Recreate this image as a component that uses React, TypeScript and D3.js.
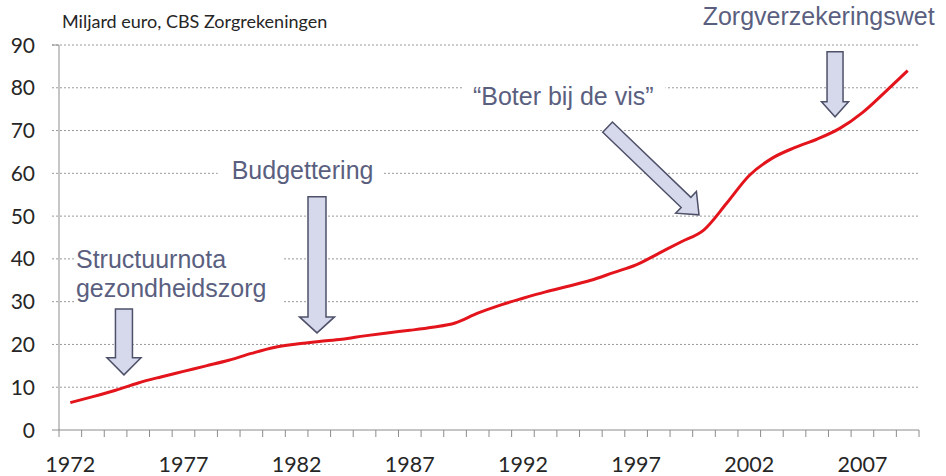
import React, { useEffect, useRef } from 'react';
import * as d3 from 'd3';

// Zorguitgaven, miljard euro (CBS Zorgrekeningen)
const years = d3.range(1972, 2010);
const spending = [
  6.4, 7.8, 9.3, 11.0, 12.4, 13.7, 15.0, 16.3, 17.9, 19.3,
  20.1, 20.7, 21.2, 22.0, 22.7, 23.3, 24.0, 25.0, 27.3, 29.2,
  30.8, 32.3, 33.6, 35.0, 36.8, 38.6, 41.3, 44.0, 46.8, 53.0,
  59.5, 63.5, 66.0, 68.0, 70.5, 74.2, 79.0, 84.0,
];
const yTicks = [0, 10, 20, 30, 40, 50, 60, 70, 80, 90];
const xTickLabels = [1972, 1977, 1982, 1987, 1992, 1997, 2002, 2007];

// annotations in data units (year, value)
const labels = [
  { lines: ['Structuurnota', 'gezondheidszorg'], year: 1972.25, value: 37.9, box: [1, 17] },
  { lines: ['Budgettering'], year: 1979.13, value: 58.6, box: [14, 10] },
  { lines: ['\u201CBoter bij de vis\u201D'], year: 1989.79, value: 76.0, box: [10, 12] },
  { lines: ['Zorgverzekeringswet'], year: 1999.94, value: 94.7, box: [0, 0] },
];
const arrows = [
  { from: [1974.37, 28.3], to: [1974.37, 12.9], shaft: 17, head: 34, headLen: 17 },
  { from: [1982.9, 54.5], to: [1982.9, 22.7], shaft: 18, head: 35, headLen: 16 },
  { from: [1995.74, 70.8], to: [1999.78, 50.3], shaft: 14, head: 30, headLen: 18 },
  { from: [2005.79, 88.4], to: [2005.79, 73.2], shaft: 16, head: 27, headLen: 15 },
];

function arrowPath(x0, y0, x1, y1, sw, hw, hl) {
  const len = Math.hypot(x1 - x0, y1 - y0);
  const ux = (x1 - x0) / len, uy = (y1 - y0) / len;
  const nx = -uy, ny = ux;
  const bx = x1 - ux * hl, by = y1 - uy * hl;
  const p = [
    [x0 + nx * sw / 2, y0 + ny * sw / 2],
    [bx + nx * sw / 2, by + ny * sw / 2],
    [bx + nx * hw / 2, by + ny * hw / 2],
    [x1, y1],
    [bx - nx * hw / 2, by - ny * hw / 2],
    [bx - nx * sw / 2, by - ny * sw / 2],
    [x0 - nx * sw / 2, y0 - ny * sw / 2],
  ];
  return 'M' + p.map(d => d.join(',')).join('L') + 'Z';
}

export default function App() {
  const svgRef = useRef(null);

  useEffect(() => {
    const svg = d3.select(svgRef.current);
    svg.selectAll('*').remove();

    const width = 946, height = 476;
    const margin = { top: 45, right: 27, bottom: 46, left: 59 };
    const axisFont = 'Lato, "Open Sans", sans-serif';
    const noteFont = '"Liberation Sans", Arial, sans-serif';
    const noteColor = '#5b5f7f';

    const x = d3.scaleBand()
      .domain(years)
      .range([margin.left, width - margin.right])
      .padding(0);
    const bw = x.bandwidth();
    const xc = d3.scaleLinear()
      .domain([years[0], years[years.length - 1]])
      .range([x(years[0]) + bw / 2, x(years[years.length - 1]) + bw / 2]);

    const y = d3.scaleLinear()
      .domain([0, 90])
      .range([height - margin.bottom, margin.top]);

    const x0 = margin.left, x1 = width - margin.right;

    // grid
    svg.append('g')
      .selectAll('line')
      .data(yTicks.filter(d => d > 0))
      .join('line')
      .attr('x1', x0 - 7)
      .attr('x2', x1)
      .attr('y1', d => y(d))
      .attr('y2', d => y(d))
      .attr('stroke', '#9a9a9a')
      .attr('stroke-width', 1)
      .attr('stroke-dasharray', '2,2');

    // y axis
    svg.append('line')
      .attr('x1', x0).attr('x2', x0)
      .attr('y1', y(90)).attr('y2', y(0))
      .attr('stroke', '#8c8c8c');
    svg.append('line')
      .attr('x1', x0 - 7).attr('x2', x0)
      .attr('y1', y(90)).attr('y2', y(90))
      .attr('stroke', '#8c8c8c');
    svg.append('g')
      .selectAll('text')
      .data(yTicks)
      .join('text')
      .attr('x', 35)
      .attr('y', d => y(d))
      .attr('dy', '0.36em')
      .attr('text-anchor', 'end')
      .attr('font-family', axisFont)
      .attr('font-size', 21)
      .attr('fill', '#262626')
      .text(d => d);

    // x axis
    svg.append('line')
      .attr('x1', x0 - 7).attr('x2', x1)
      .attr('y1', y(0)).attr('y2', y(0))
      .attr('stroke', '#8c8c8c');
    svg.append('g')
      .selectAll('line')
      .data(years.map(d => x(d)).concat([x1]))
      .join('line')
      .attr('x1', d => d).attr('x2', d => d)
      .attr('y1', y(0)).attr('y2', y(0) + 7)
      .attr('stroke', '#8c8c8c');
    svg.append('g')
      .selectAll('text')
      .data(xTickLabels)
      .join('text')
      .attr('x', d => x(d) + bw / 2)
      .attr('y', 472)
      .attr('text-anchor', 'middle')
      .attr('font-family', axisFont)
      .attr('font-size', 21.5)
      .attr('fill', '#262626')
      .text(d => d);

    // title
    svg.append('text')
      .attr('x', 62)
      .attr('y', 28)
      .attr('font-family', axisFont)
      .attr('font-size', 18)
      .attr('fill', '#262626')
      .text('Miljard euro, CBS Zorgrekeningen');

    // line
    const line = d3.line()
      .x((d, i) => x(years[i]) + bw / 2)
      .y(d => y(d))
      .curve(d3.curveMonotoneX);
    svg.append('path')
      .datum(spending)
      .attr('fill', 'none')
      .attr('stroke', '#e3141b')
      .attr('stroke-width', 3)
      .attr('stroke-linejoin', 'round')
      .attr('d', line);

    // annotation labels with white backing
    labels.forEach(l => {
      const g = svg.append('g');
      const rect = g.append('rect').attr('fill', '#fff');
      const t = g.append('text')
        .attr('font-family', noteFont)
        .attr('font-size', 25)
        .attr('fill', noteColor);
      l.lines.forEach((s, i) => {
        t.append('tspan')
          .attr('x', xc(l.year))
          .attr('y', y(l.value) + i * 28.7)
          .text(s);
      });
      const bb = t.node().getBBox();
      rect.attr('x', bb.x - l.box[0])
        .attr('y', bb.y - 2)
        .attr('width', bb.width + l.box[0] + l.box[1])
        .attr('height', bb.height + 4);
      if (l.box[0] === 0 && l.box[1] === 0) rect.remove();
    });

    // arrows
    svg.append('g')
      .selectAll('path')
      .data(arrows)
      .join('path')
      .attr('d', a => arrowPath(
        xc(a.from[0]), y(a.from[1]), xc(a.to[0]), y(a.to[1]),
        a.shaft, a.head, a.headLen))
      .attr('fill', '#d6d8ec')
      .attr('stroke', '#4e5169')
      .attr('stroke-width', 1.5)
      .attr('stroke-linejoin', 'miter');
  }, []);

  return (
    <svg
      ref={svgRef}
      width={946}
      height={476}
      viewBox="0 0 946 476"
      style={{ position: 'absolute', left: 0, top: 0, background: '#fff' }}
    />
  );
}
